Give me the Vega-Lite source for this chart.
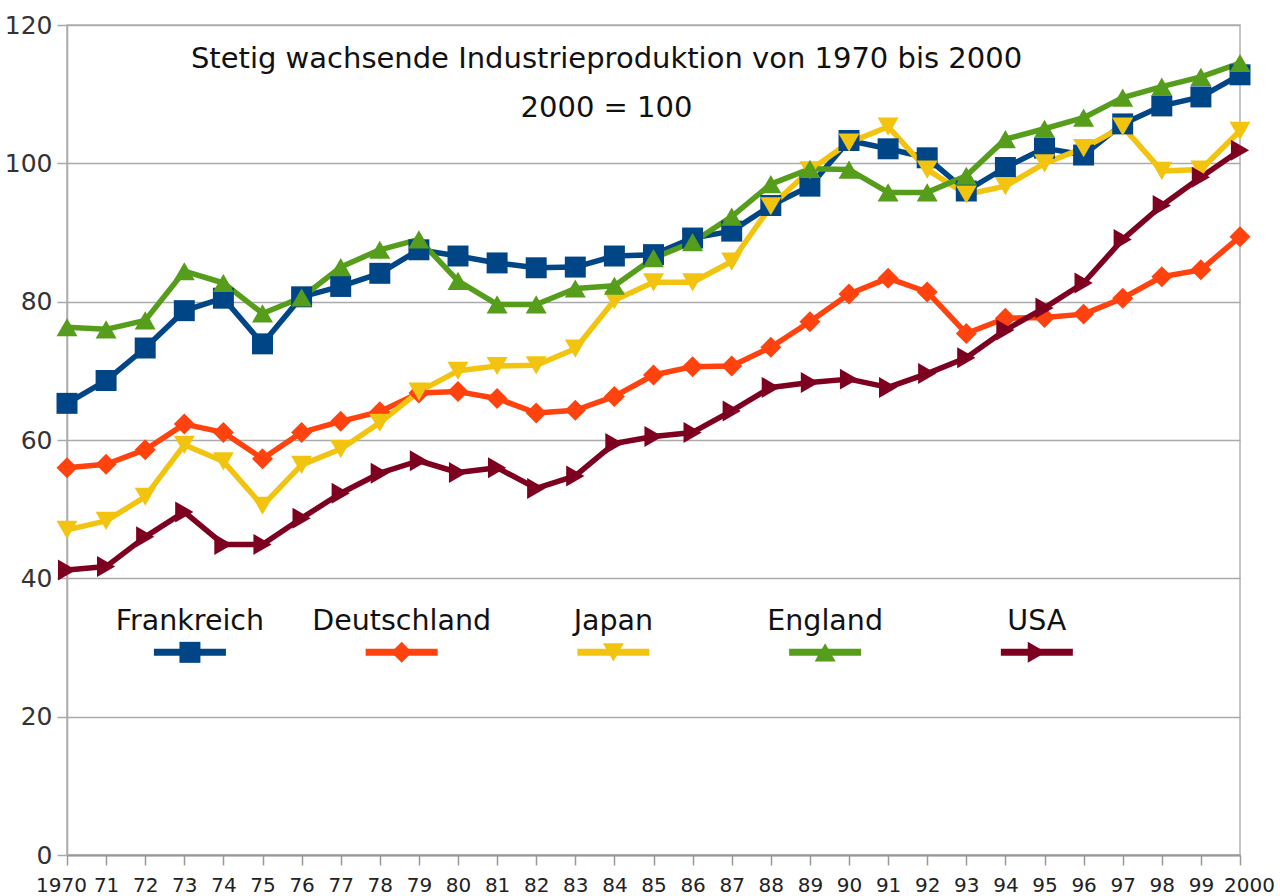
{
  "$schema": "https://vega.github.io/schema/vega-lite/v6.json",
  "autosize": "none",
  "width": 1173,
  "height": 830,
  "padding": {"left": 67, "top": 25, "right": 40, "bottom": 41},
  "background": "white",
  "config": {
    "font": "DejaVu Sans",
    "view": {"stroke": "#b3b3b3", "strokeWidth": 1.5}
  },
  "title": {
    "text": "Stetig wachsende Industrieproduktion von 1970 bis 2000",
    "subtitle": "2000 = 100",
    "anchor": "middle",
    "orient": "top",
    "offset": -110,
    "dx": -47,
    "font": "DejaVu Sans",
    "fontSize": 29,
    "fontWeight": "normal",
    "color": "#111111",
    "subtitleFont": "DejaVu Sans",
    "subtitleFontSize": 29,
    "subtitleColor": "#111111",
    "subtitlePadding": 20
  },
  "data": {
    "values": [
      {"year": 1970, "Frankreich": 65.3, "Deutschland": 56.0, "Japan": 47.0, "England": 76.3, "USA": 41.2},
      {"year": 1971, "Frankreich": 68.6, "Deutschland": 56.5, "Japan": 48.3, "England": 76.0, "USA": 41.7},
      {"year": 1972, "Frankreich": 73.3, "Deutschland": 58.6, "Japan": 51.8, "England": 77.3, "USA": 46.0},
      {"year": 1973, "Frankreich": 78.7, "Deutschland": 62.3, "Japan": 59.3, "England": 84.4, "USA": 49.6},
      {"year": 1974, "Frankreich": 80.5, "Deutschland": 61.1, "Japan": 56.9, "England": 82.7, "USA": 44.9},
      {"year": 1975, "Frankreich": 73.9, "Deutschland": 57.3, "Japan": 50.5, "England": 78.3, "USA": 44.9},
      {"year": 1976, "Frankreich": 80.7, "Deutschland": 61.1, "Japan": 56.4, "England": 80.6, "USA": 48.7},
      {"year": 1977, "Frankreich": 82.2, "Deutschland": 62.7, "Japan": 58.7, "England": 85.0, "USA": 52.3},
      {"year": 1978, "Frankreich": 84.1, "Deutschland": 64.1, "Japan": 62.5, "England": 87.5, "USA": 55.2},
      {"year": 1979, "Frankreich": 87.5, "Deutschland": 66.8, "Japan": 67.0, "England": 89.0, "USA": 57.0},
      {"year": 1980, "Frankreich": 86.6, "Deutschland": 67.0, "Japan": 70.0, "England": 83.0, "USA": 55.3},
      {"year": 1981, "Frankreich": 85.6, "Deutschland": 66.0, "Japan": 70.7, "England": 79.6, "USA": 56.0},
      {"year": 1982, "Frankreich": 84.9, "Deutschland": 63.9, "Japan": 70.8, "England": 79.6, "USA": 53.0},
      {"year": 1983, "Frankreich": 85.0, "Deutschland": 64.3, "Japan": 73.2, "England": 81.9, "USA": 54.8},
      {"year": 1984, "Frankreich": 86.6, "Deutschland": 66.3, "Japan": 80.2, "England": 82.3, "USA": 59.5},
      {"year": 1985, "Frankreich": 86.8, "Deutschland": 69.4, "Japan": 82.8, "England": 86.3, "USA": 60.5},
      {"year": 1986, "Frankreich": 89.2, "Deutschland": 70.6, "Japan": 82.8, "England": 88.6, "USA": 61.1},
      {"year": 1987, "Frankreich": 90.2, "Deutschland": 70.7, "Japan": 85.8, "England": 92.3, "USA": 64.2},
      {"year": 1988, "Frankreich": 93.9, "Deutschland": 73.4, "Japan": 93.8, "England": 97.0, "USA": 67.6},
      {"year": 1989, "Frankreich": 96.7, "Deutschland": 77.1, "Japan": 99.0, "England": 99.2, "USA": 68.3},
      {"year": 1990, "Frankreich": 103.3, "Deutschland": 81.1, "Japan": 103.0, "England": 99.1, "USA": 68.8},
      {"year": 1991, "Frankreich": 102.1, "Deutschland": 83.4, "Japan": 105.3, "England": 95.8, "USA": 67.6},
      {"year": 1992, "Frankreich": 100.8, "Deutschland": 81.4, "Japan": 99.1, "England": 95.8, "USA": 69.6},
      {"year": 1993, "Frankreich": 96.0, "Deutschland": 75.4, "Japan": 95.5, "England": 98.2, "USA": 71.9},
      {"year": 1994, "Frankreich": 99.4, "Deutschland": 77.6, "Japan": 96.7, "England": 103.5, "USA": 75.9},
      {"year": 1995, "Frankreich": 102.2, "Deutschland": 77.7, "Japan": 100.0, "England": 105.0, "USA": 79.1},
      {"year": 1996, "Frankreich": 101.2, "Deutschland": 78.2, "Japan": 102.2, "England": 106.6, "USA": 82.7},
      {"year": 1997, "Frankreich": 105.7, "Deutschland": 80.5, "Japan": 105.3, "England": 109.5, "USA": 89.0},
      {"year": 1998, "Frankreich": 108.3, "Deutschland": 83.6, "Japan": 98.9, "England": 111.1, "USA": 93.9},
      {"year": 1999, "Frankreich": 109.6, "Deutschland": 84.6, "Japan": 99.1, "England": 112.5, "USA": 98.0},
      {"year": 2000, "Frankreich": 112.8, "Deutschland": 89.4, "Japan": 104.7, "England": 114.5, "USA": 101.9}
    ]
  },
  "transform": [
    {"fold": ["Frankreich", "Deutschland", "Japan", "England", "USA"], "as": ["country", "value"]}
  ],
  "resolve": {"scale": {"x": "independent"}},
  "layer": [
    {
      "encoding": {
        "x": {
          "field": "year",
          "type": "quantitative",
          "scale": {"domain": [1970, 2000], "nice": false, "zero": false},
          "axis": {
            "title": null,
            "values": [1970, 1971, 1972, 1973, 1974, 1975, 1976, 1977, 1978, 1979, 1980, 1981, 1982, 1983, 1984, 1985, 1986, 1987, 1988, 1989, 1990, 1991, 1992, 1993, 1994, 1995, 1996, 1997, 1998, 1999, 2000],
            "labelExpr": "datum.value == 1970 || datum.value == 2000 ? '' + datum.value : substring('' + datum.value, 2)",
            "labelFontSize": 20,
            "labelColor": "#222222",
            "labelFont": "DejaVu Sans",
            "labelOverlap": false,
            "labelFlush": false,
            "labelBound": false,
            "labelOffset": {"condition": [{"test": "datum.value == 1970", "value": -6}, {"test": "datum.value == 2000", "value": 9}], "value": 0},
            "labelPadding": 10,
            "tickSize": 10,
            "tickColor": "#999999",
            "tickWidth": 1.5,
            "grid": false,
            "domainColor": "#999999",
            "domainWidth": 2
          }
        },
        "y": {
          "field": "value",
          "type": "quantitative",
          "scale": {"domain": [0, 120], "nice": false},
          "axis": {
            "title": null,
            "values": [0, 20, 40, 60, 80, 100, 120],
            "labelFontSize": 25,
            "labelColor": "#333333",
            "labelFont": "DejaVu Sans",
            "labelPadding": 5,
            "tickSize": 10,
            "tickColor": "#aaaaaa",
            "tickWidth": 1.5,
            "gridColor": "#aaaaaa",
            "gridWidth": 1.5,
            "domainColor": "#aaaaaa",
            "domainWidth": 1.5
          }
        },
        "color": {
          "field": "country",
          "type": "nominal",
          "scale": {
            "domain": ["Frankreich", "Deutschland", "Japan", "England", "USA"],
            "range": ["#004586", "#ff420e", "#f2c40f", "#579d1c", "#7e0021"]
          },
          "legend": null
        }
      },
      "layer": [
        {
          "mark": {"type": "line", "strokeWidth": 5.5, "strokeJoin": "round", "strokeCap": "round"}
        },
        {
          "mark": {"type": "point", "filled": true, "opacity": 1, "size": 440},
          "encoding": {
            "shape": {
              "field": "country",
              "type": "nominal",
              "scale": {
                "domain": ["Frankreich", "Deutschland", "Japan", "England", "USA"],
                "range": ["square", "diamond", "triangle-down", "triangle-up", "triangle-right"]
              },
              "legend": null
            }
          }
        }
      ]
    },
    {
      "transform": [{"filter": "datum.year == 1970"}],
      "encoding": {
        "x": {
          "field": "country",
          "type": "nominal",
          "scale": {
            "type": "point",
            "domain": ["Frankreich", "Deutschland", "Japan", "England", "USA"],
            "padding": 0.77,
            "align": 0.377
          },
          "axis": null
        },
        "color": {
          "field": "country",
          "type": "nominal",
          "legend": null
        }
      },
      "layer": [
        {
          "mark": {"type": "tick", "orient": "horizontal", "size": 72, "thickness": 7, "opacity": 1},
          "encoding": {"y": {"datum": 29.3, "type": "quantitative"}}
        },
        {
          "mark": {"type": "point", "filled": true, "opacity": 1, "size": 440},
          "encoding": {
            "y": {"datum": 29.3, "type": "quantitative"},
            "shape": {"field": "country", "type": "nominal", "legend": null}
          }
        },
        {
          "mark": {"type": "text", "fontSize": 28.5, "font": "DejaVu Sans", "baseline": "alphabetic", "align": "center", "color": "#111111"},
          "encoding": {
            "y": {"datum": 32.5, "type": "quantitative"},
            "text": {"field": "country", "type": "nominal"},
            "color": {"value": "#111111"}
          }
        }
      ]
    }
  ]
}
